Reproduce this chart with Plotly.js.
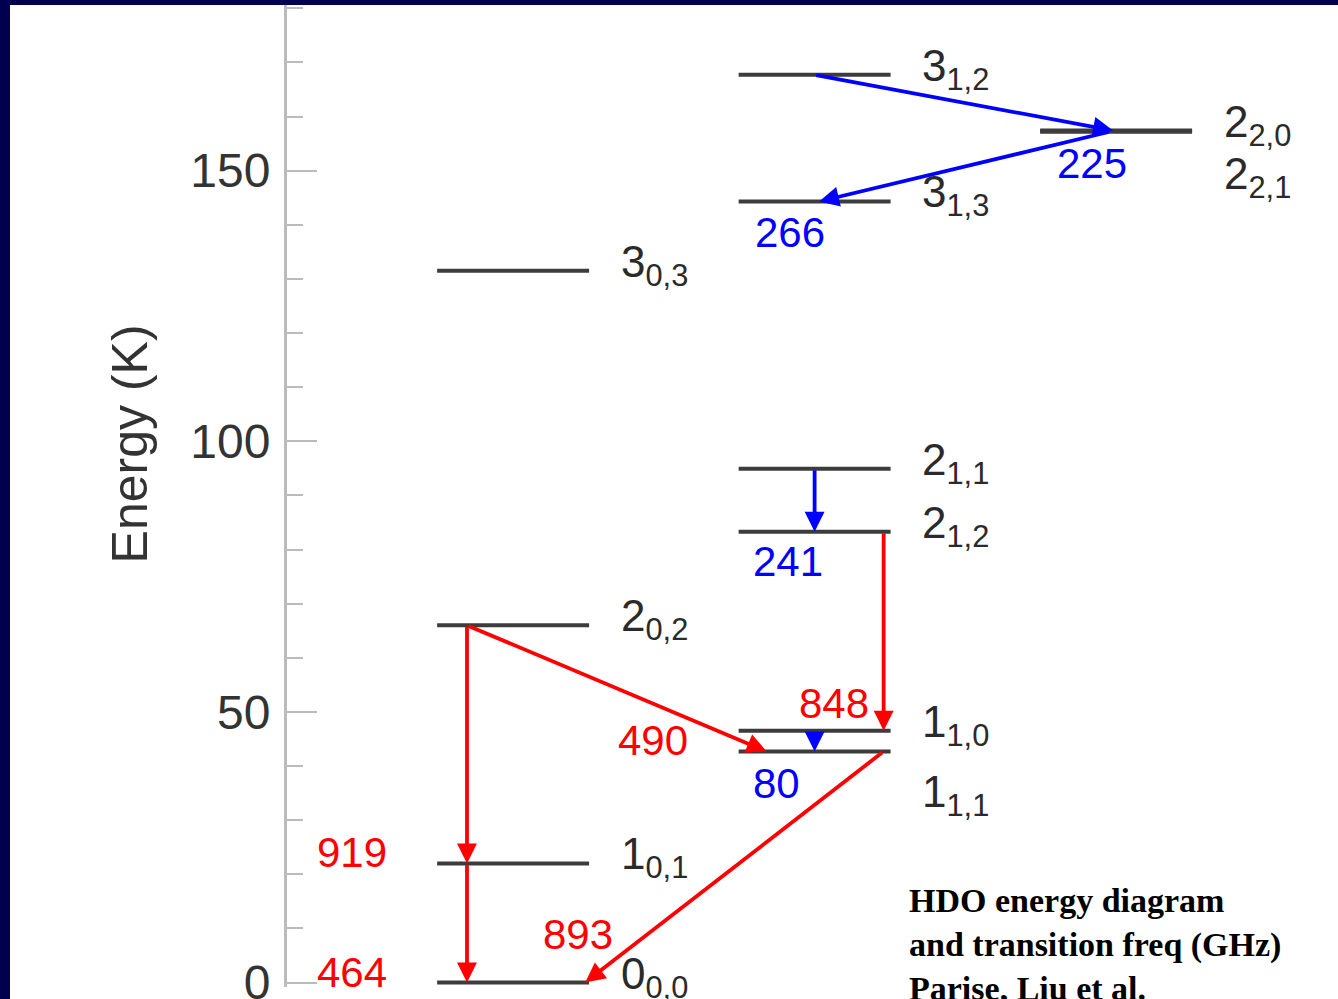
<!DOCTYPE html>
<html>
<head>
<meta charset="utf-8">
<script src="https://cdn.plot.ly/plotly-3.0.1.min.js"></script>
<style>
  html, body { margin:0; padding:0; width:1338px; height:999px; overflow:hidden; background:#00004f; }
  #chart { position:absolute; left:10px; top:5px; width:1328px; height:994px; background:#ffffff; }
</style>
</head>
<body>
<div id="chart"></div>
<script>
// ---------- DATA ----------
const levelIds     = ['0_00','1_01','2_02','3_03','1_11','1_10','2_12','2_11','3_13','3_12','2_21','2_20'];
const levelLabels  = ['0<sub>0,0</sub>','1<sub>0,1</sub>','2<sub>0,2</sub>','3<sub>0,3</sub>',
                      '1<sub>1,1</sub>','1<sub>1,0</sub>','2<sub>1,2</sub>','2<sub>1,1</sub>',
                      '3<sub>1,3</sub>','3<sub>1,2</sub>','2<sub>2,1</sub>','2<sub>2,0</sub>'];
const levelEnergyK = [0, 22.0, 66.0, 131.5, 42.7, 46.5, 83.3, 94.9, 144.3, 167.7, 157.2, 157.4];
const levelColumn  = [1, 1, 1, 1, 2, 2, 2, 2, 2, 2, 3, 3];

const transFreqGHz = [919, 464, 490, 848, 893, 80, 241, 225, 266];
const transFrom    = ['2_02','1_01','2_02','2_12','1_11','1_10','2_11','3_12','2_21'];
const transTo      = ['1_01','0_00','1_11','1_10','0_00','1_11','2_12','2_20','3_13'];
const transBand    = ['red','red','red','red','red','blue','blue','blue','blue'];

const yTickVals    = [0, 50, 100, 150];
const yTickText    = ['0', '50', '100', '150'];
const yTitleText   = 'Energy (K)';

// ---------- LAYOUT / STYLE ----------
const bandColor = { red:'#ff0000', blue:'#0000ff' };
const halfWidth = 0.252;           // half length of a level line (x units)
// horizontal offsets of arrow tail/tip from column centre (x units)
const arrowOffset = {
  919:[-0.153,-0.153], 464:[-0.153,-0.153], 490:[-0.153,-0.159], 848:[0.229,0.229],
  893:[0.229,0.239], 80:[0,0], 241:[0,0], 225:[0,-0.01], 266:[-0.02,0.015]
};
// label anchor positions for frequencies [x, y]
const freqLabelPos = {
  919:[0.466,24.1], 464:[0.466,1.9], 490:[1.464,44.8], 848:[2.064,51.6], 893:[1.215,8.8],
  80:[1.875,36.8], 241:[1.912,77.7], 225:[2.92,151.3], 266:[1.918,138.6]
};
// vertical pixel shift of level name labels
const levelLabelShift = { '1_11':-44, '2_21':-45 };

const idx = id => levelIds.indexOf(id);
const traces = [];
const annotations = [];

levelIds.forEach((id, i) => {
  const c = levelColumn[i], e = levelEnergyK[i];
  traces.push({
    type:'scatter', mode:'lines', x:[c - halfWidth, c + halfWidth], y:[e, e],
    line:{color:'#3c3c3c', width:4}, hoverinfo:'skip', showlegend:false, cliponaxis:false
  });
  annotations.push({
    x: c + 0.35, y: e, xref:'x', yref:'y', xanchor:'left', yanchor:'middle',
    text: levelLabels[i], showarrow:false,
    yshift: (levelLabelShift[id] !== undefined ? levelLabelShift[id] : 6),
    font:{family:'Liberation Sans, Arial, sans-serif', size:44, color:'#2a2a2a'}
  });
});

transFreqGHz.forEach((f, k) => {
  const a = idx(transFrom[k]), b = idx(transTo[k]);
  const off = arrowOffset[f];
  const col = bandColor[transBand[k]];
  annotations.push({
    x: levelColumn[b] + off[1], y: levelEnergyK[b], xref:'x', yref:'y',
    ax: levelColumn[a] + off[0], ay: levelEnergyK[a], axref:'x', ayref:'y',
    text:'', showarrow:true, arrowhead:2, arrowsize:1.05, arrowwidth:3.8, arrowcolor: col
  });
  annotations.push({
    x: freqLabelPos[f][0], y: freqLabelPos[f][1], xref:'x', yref:'y',
    text: String(f), showarrow:false, xanchor:'center', yanchor:'middle',
    font:{family:'Liberation Sans, Arial, sans-serif', size:42, color: col}
  });
});

// y-axis title, placed like the reference (slightly above the axis centre)
annotations.push({
  xref:'paper', yref:'y', x:-0.1494, y:99.6, xanchor:'center', yanchor:'middle',
  textangle:-90, showarrow:false, text: yTitleText,
  font:{family:'Liberation Sans, Arial, sans-serif', size:50, color:'#333333'}
});

annotations.push({
  xref:'x', yref:'y', x:2.306, y:19.0, xanchor:'left', yanchor:'top', align:'left',
  showarrow:false,
  text:'<b>HDO energy diagram<br>and transition freq (GHz)<br>Parise, Liu et al.</b>',
  font:{family:'Liberation Serif, Times New Roman, serif', size:34, color:'#000000'}
});

const layout = {
  width:1328, height:994,
  margin:{l:277, r:0, t:0, b:12, pad:0},
  paper_bgcolor:'#ffffff', plot_bgcolor:'#ffffff',
  showlegend:false,
  xaxis:{ range:[0.25, 3.736], visible:false, fixedrange:true },
  yaxis:{
    range:[-0.83, 180.6], tickmode:'array', tickvals:yTickVals, ticktext:yTickText,
    ticks:'inside', ticklen:30, tickwidth:2, tickcolor:'#bbbbbb',
    showline:true, linecolor:'#bbbbbb', linewidth:3, showgrid:false, zeroline:false,
    tickfont:{family:'Liberation Sans, Arial, sans-serif', size:48, color:'#333333'},
    ticklabelstandoff: 4, ticklabeloverflow:'allow',
    minor:{ dtick:10, tick0:0, ticks:'inside', ticklen:16, tickwidth:2, tickcolor:'#bbbbbb', showgrid:false },
    automargin:false
  },
  annotations: annotations
};

Plotly.newPlot('chart', traces, layout, {staticPlot:true, displayModeBar:false});
</script>
</body>
</html>
